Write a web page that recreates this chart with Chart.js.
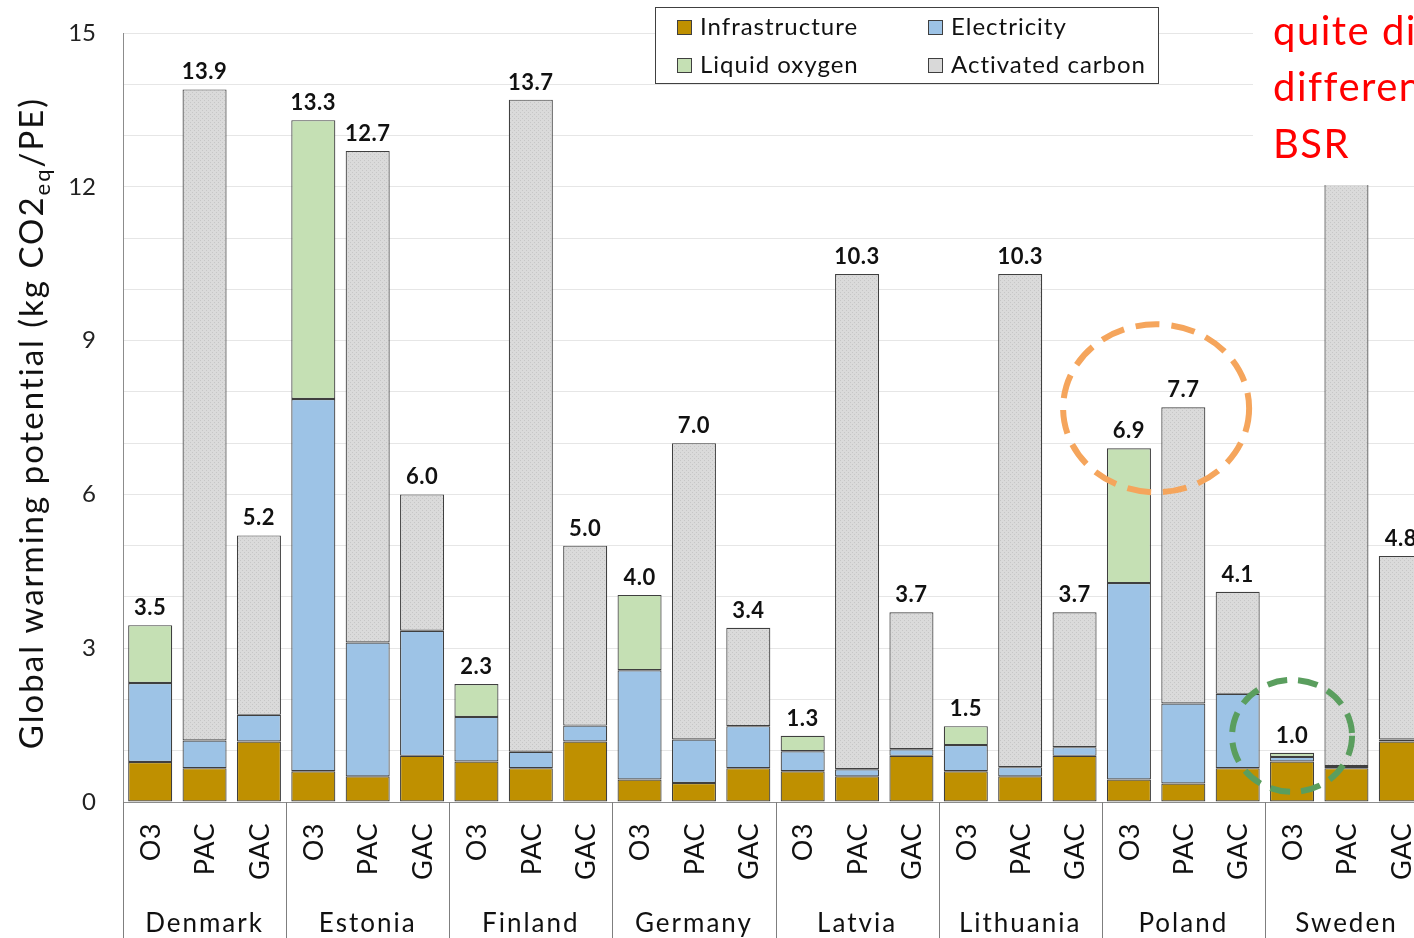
<!DOCTYPE html>
<html>
<head>
<meta charset="utf-8">
<script src="https://cdn.jsdelivr.net/npm/chart.js@4.4.1/dist/chart.umd.min.js"></script>
<style>
  html, body { margin: 0; padding: 0; background: #fff; overflow: hidden; }
  #wrap { width: 1414px; height: 938px; overflow: hidden; }
  canvas { display: block; }
</style>
</head>
<body>
<div id="wrap"><canvas id="gwpChart" width="1440" height="938"></canvas></div>
<script>
// Données du graphique
const countries = ['Denmark', 'Estonia', 'Finland', 'Germany', 'Latvia', 'Lithuania', 'Poland', 'Sweden'];
const techs = ['O3', 'PAC', 'GAC'];

const infrastructure = [0.78, 0.66, 1.18, 0.60, 0.50, 0.90, 0.79, 0.66, 1.18, 0.44, 0.37, 0.66,
                        0.60, 0.50, 0.90, 0.60, 0.50, 0.90, 0.44, 0.36, 0.66, 0.79, 0.66, 1.18];
const electricity = [1.54, 0.54, 0.52, 7.26, 2.61, 2.44, 0.87, 0.32, 0.31, 2.13, 0.85, 0.82,
                     0.39, 0.14, 0.13, 0.51, 0.18, 0.17, 3.83, 1.56, 1.45, 0.09, 0.04, 0.04];
const liquidOxygen = [1.13, null, null, 5.44, null, null, 0.64, null, null, 1.47, null, null,
                      0.30, null, null, 0.37, null, null, 2.63, null, null, 0.08, null, null];
const activatedCarbon = [null, 12.70, 3.50, null, 9.59, 2.66, null, 12.72, 3.51, null, 5.78, 1.92,
                         null, 9.66, 2.67, null, 9.62, 2.63, null, 5.78, 1.99, null, 13.0, 3.58];
const yTicks = [0, 3, 6, 9, 12, 15];

const FONT = 'Lato, "Noto Sans", sans-serif';

// Une étiquette par barre (pays + technologie)
const labels = [];
countries.forEach(c => techs.forEach(t => labels.push(t)));

// Total de chaque pile
const totals = labels.map((_, i) =>
    [infrastructure, electricity, liquidOxygen, activatedCarbon].reduce((s, arr) => s + (arr[i] || 0), 0));

// Motif pointillé pour le charbon actif
function makeDots() {
    const c = document.createElement('canvas');
    c.width = 4; c.height = 4;
    const g = c.getContext('2d');
    g.fillStyle = '#DADADA';
    g.fillRect(0, 0, 4, 4);
    g.fillStyle = '#C6C6C6';
    g.fillRect(0, 0, 1, 1);
    g.fillRect(2, 2, 1, 1);
    return g.createPattern(c, 'repeat');
}

const colors = {
    infra: '#BF9000',
    elec: '#9DC3E6',
    lox: '#C5E0B4',
    ac: makeDots()
};

const legendItems = [
    { text: 'Infrastructure', color: '#BF9000' },
    { text: 'Electricity', color: '#9DC3E6' },
    { text: 'Liquid oxygen', color: '#C5E0B4' },
    { text: 'Activated carbon', color: '#D9D9D9' }
];

function ds(label, data, bg) {
    return {
        label: label,
        data: data,
        backgroundColor: bg,
        borderColor: '#3F3F3F',
        borderWidth: 1.2,
        borderSkipped: false,
        categoryPercentage: 1,
        barPercentage: 0.81
    };
}

const overlay = {
    id: 'overlay',
    afterDatasetsDraw(chart) {
        const ctx = chart.ctx;
        const x = chart.scales.x, y = chart.scales.y;
        ctx.save();
        ctx.fillStyle = '#111';
        ctx.font = 'bold 22px ' + FONT;
        ctx.letterSpacing = '0.5px';
        ctx.textAlign = 'center';
        ctx.textBaseline = 'alphabetic';
        totals.forEach((t, i) => {
            ctx.fillText(t.toFixed(1), x.getPixelForValue(i), y.getPixelForValue(t) - 10);
        });
        ctx.restore();
    },
    afterDraw(chart) {
        const ctx = chart.ctx;
        const x = chart.scales.x, y = chart.scales.y;
        const area = chart.chartArea;
        const slot = x.getPixelForValue(1) - x.getPixelForValue(0);
        const H = chart.height;
        ctx.save();

        // Séparateurs de groupes + libellés
        ctx.strokeStyle = '#7F7F7F';
        ctx.lineWidth = 1;
        for (let g = 0; g <= countries.length; g++) {
            const px = Math.round(x.getPixelForValue(g * 3) - slot / 2) + 0.5;
            ctx.beginPath();
            ctx.moveTo(px, area.bottom);
            ctx.lineTo(px, H);
            ctx.stroke();
        }
        ctx.fillStyle = '#111';
        ctx.font = '27px ' + FONT;
        ctx.letterSpacing = '0.5px';
        labels.forEach((t, i) => {
            ctx.save();
            ctx.translate(x.getPixelForValue(i) + 1, area.bottom + 21);
            ctx.rotate(-Math.PI / 2);
            ctx.textAlign = 'right';
            ctx.textBaseline = 'middle';
            ctx.fillText(t, 0, 0);
            ctx.restore();
        });
        ctx.font = '26px ' + FONT;
        ctx.letterSpacing = '2px';
        ctx.textAlign = 'center';
        ctx.textBaseline = 'alphabetic';
        countries.forEach((c, g) => {
            ctx.fillText(c, x.getPixelForValue(g * 3 + 1), area.bottom + 130);
        });

        // Titre de l'axe Y avec indice
        ctx.save();
        ctx.translate(43, 423);
        ctx.rotate(-Math.PI / 2);
        ctx.letterSpacing = '2px';
        const big = '33px ' + FONT, small = '22px ' + FONT;
        const p1 = 'Global warming potential (kg CO2', p2 = 'eq', p3 = '/PE)';
        ctx.font = big; const w1 = ctx.measureText(p1).width, w3 = ctx.measureText(p3).width;
        ctx.font = small; const w2 = ctx.measureText(p2).width;
        let sx = -(w1 + w2 + w3) / 2;
        ctx.textAlign = 'left';
        ctx.fillStyle = '#111';
        ctx.font = big; ctx.fillText(p1, sx, 0); sx += w1;
        ctx.font = small; ctx.fillText(p2, sx, 7); sx += w2;
        ctx.font = big; ctx.fillText(p3, sx, 0);
        ctx.restore();

        // Légende
        ctx.fillStyle = '#fff';
        ctx.fillRect(655, 7, 504, 77);
        ctx.strokeStyle = '#404040';
        ctx.lineWidth = 1;
        ctx.strokeRect(655.5, 7.5, 503, 76);
        ctx.font = '24px ' + FONT;
        ctx.letterSpacing = '1px';
        ctx.textAlign = 'left';
        ctx.textBaseline = 'alphabetic';
        legendItems.forEach((it, k) => {
            const col = k % 2, row = Math.floor(k / 2);
            const lx = col === 0 ? 677 : 928;
            const ly = row === 0 ? 20 : 58;
            ctx.fillStyle = it.color;
            ctx.fillRect(lx, ly, 15, 15);
            ctx.strokeStyle = '#3F3F3F';
            ctx.strokeRect(lx + 0.5, ly + 0.5, 14, 14);
            ctx.fillStyle = '#111';
            ctx.fillText(it.text, lx + 23, ly + 15);
        });

        // Cercles en tirets
        ctx.lineWidth = 6;
        ctx.strokeStyle = '#F5A55C';
        ctx.setLineDash([24, 12]);
        ctx.beginPath();
        ctx.ellipse(x.getPixelForValue(18.5), y.getPixelForValue(7.68), 93, 84, 0, 0, Math.PI * 2);
        ctx.stroke();
        ctx.strokeStyle = '#5A9E5E';
        ctx.setLineDash([20, 11]);
        ctx.beginPath();
        ctx.ellipse(x.getPixelForValue(21), y.getPixelForValue(1.29), 60, 56, 0, 0, Math.PI * 2);
        ctx.stroke();
        ctx.setLineDash([]);

        // Zone de texte rouge
        ctx.fillStyle = '#fff';
        ctx.fillRect(1253, 0, 200, 185);
        ctx.fillStyle = '#FF0000';
        ctx.font = '40px ' + FONT;
        ctx.letterSpacing = '1.5px';
        ctx.fillText('quite di', 1273, 45);
        ctx.fillText('differen', 1273, 101);
        ctx.fillText('BSR', 1273, 158);

        ctx.restore();
    }
};

new Chart(document.getElementById('gwpChart').getContext('2d'), {
    type: 'bar',
    data: {
        labels: labels,
        datasets: [
            ds('Infrastructure', infrastructure, colors.infra),
            ds('Electricity', electricity, colors.elec),
            ds('Liquid oxygen', liquidOxygen, colors.lox),
            ds('Activated carbon', activatedCarbon, colors.ac)
        ]
    },
    options: {
        responsive: false,
        animation: false,
        devicePixelRatio: 1,
        layout: { padding: { left: 0, right: 12, top: 33, bottom: 0 } },
        plugins: { legend: { display: false }, tooltip: { enabled: false } },
        scales: {
            x: {
                stacked: true,
                grid: { display: true, color: 'transparent', drawTicks: false },
                border: { display: true, color: '#8C8C8C', width: 1 },
                ticks: { display: false },
                afterFit(scale) { scale.height = 136; scale.paddingLeft = 0; scale.paddingRight = 0; }
            },
            y: {
                stacked: true,
                min: 0,
                max: 15,
                grid: { color: '#E6E6E6', drawTicks: false },
                border: { display: true, color: '#8C8C8C', width: 1 },
                ticks: {
                    stepSize: 1,
                    autoSkip: false,
                    padding: 27,
                    color: '#222',
                    font: { family: FONT, size: 24 },
                    callback: v => yTicks.includes(v) ? v : ''
                },
                afterFit(scale) { scale.width = 123; scale.paddingTop = 0; scale.paddingBottom = 0; }
            }
        }
    },
    plugins: [overlay]
});
</script>
</body>
</html>
